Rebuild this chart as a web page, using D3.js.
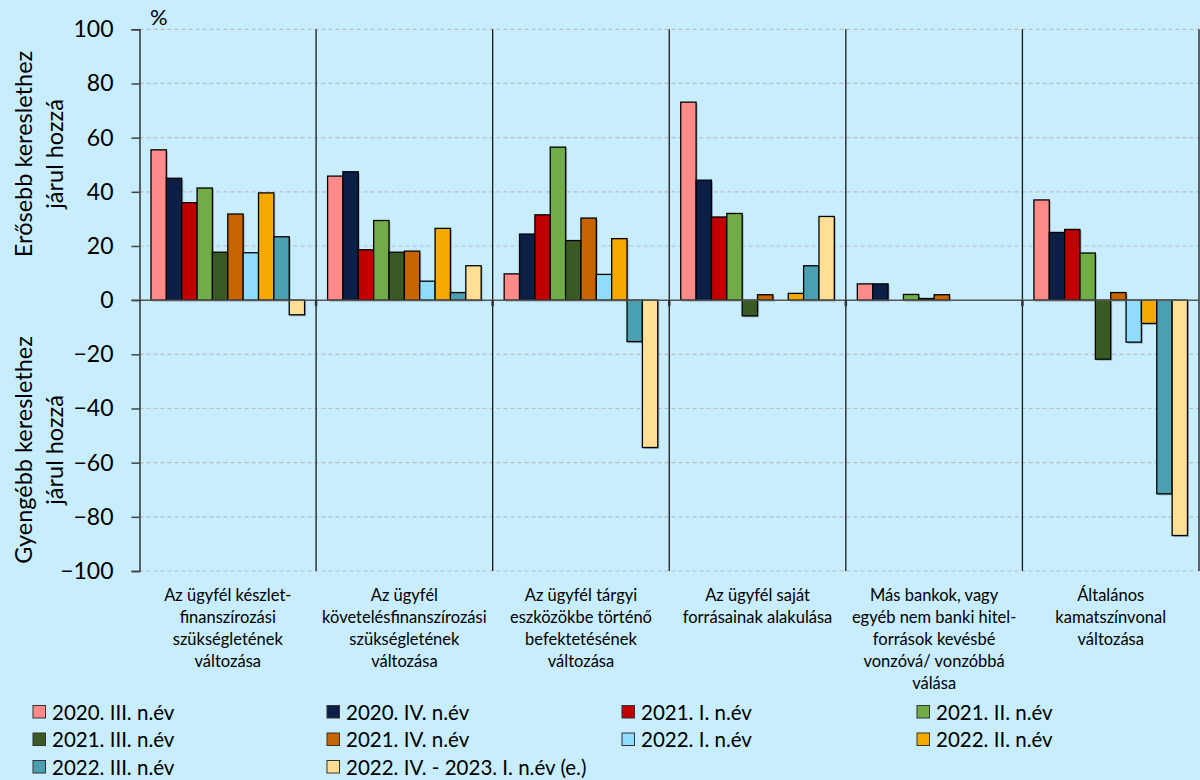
<!doctype html>
<html>
<head>
	<title>Hiteligény tényezők</title>
	<meta charset="UTF-8">
	<script src="https://d3js.org/d3.v7.min.js"></script>
	<style>
		body { margin: 0; background: #C7EDFE; }
		text { font-family: Lato, "Open Sans", sans-serif; fill: #000; }
	</style>
</head>
<body>
	<script>
		// categories (each label split into lines)
		var categories = [
			["Az ügyfél készlet-", "finanszírozási", "szükségletének", "változása"],
			["Az ügyfél", "követelésfinanszírozási", "szükségletének", "változása"],
			["Az ügyfél tárgyi", "eszközökbe történő", "befektetésének", "változása"],
			["Az ügyfél saját", "forrásainak alakulása"],
			["Más bankok, vagy", "egyéb nem banki hitel-", "források kevésbé", "vonzóvá/ vonzóbbá", "válása"],
			["Általános", "kamatszínvonal", "változása"]
		];

		// series names
		var seriesNames = ["2020. III. n.év", "2020. IV. n.év", "2021. I. n.év", "2021. II. n.év",
			"2021. III. n.év", "2021. IV. n.év", "2022. I. n.év", "2022. II. n.év",
			"2022. III. n.év", "2022. IV. - 2023. I. n.év (e.)"];

		// values, one array per series (same order as categories)
		var v2020q3 = [55.5, 45.8, 9.7, 73.1, 6.0, 37.0];
		var v2020q4 = [45.0, 47.4, 24.4, 44.3, 6.0, 25.0];
		var v2021q1 = [36.0, 18.6, 31.5, 30.7, 0, 26.1];
		var v2021q2 = [41.4, 29.4, 56.5, 32.0, 2.1, 17.4];
		var v2021q3 = [17.7, 17.7, 22.0, -5.8, 0.6, -21.8];
		var v2021q4 = [31.8, 18.1, 30.3, 2.0, 2.0, 2.8];
		var v2022q1 = [17.5, 7.0, 9.5, 0, 0, -15.5];
		var v2022q2 = [39.6, 26.5, 22.7, 2.5, 0, -8.6];
		var v2022q3 = [23.4, 2.8, -15.3, 12.7, 0, -71.5];
		var v2022q4 = [-5.4, 12.7, -54.4, 30.9, 0, -86.9];
		var seriesValues = [v2020q3, v2020q4, v2021q1, v2021q2, v2021q3, v2021q4, v2022q1, v2022q2, v2022q3, v2022q4];

		// y tick values
		var yTicks = [-100, -80, -60, -40, -20, 0, 20, 40, 60, 80, 100];

		// colours of the series
		var colours = ["#FF8A8A", "#0C1F47", "#C00000", "#70AD47", "#3A5A24",
			"#C86400", "#8FDCFF", "#F5A800", "#4A9FB0", "#FFDF96"];

		var W = 1200, H = 780;
		var plotLeft = 139.5, plotRight = 1199, plotTop = 29.3, plotBottom = 571;

		var svg = d3.select("body")
			.append("svg")
				.attr("width", W)
				.attr("height", H);

		svg.append("rect")
			.attr("width", W)
			.attr("height", H)
			.attr("fill", "#C7EDFE");

		// scales
		var x0 = d3.scaleBand()
			.domain(d3.range(categories.length))
			.range([plotLeft, plotRight])
			.padding(0);
		var x1 = d3.scaleBand()
			.domain(d3.range(seriesNames.length))
			.range([11.5, x0.bandwidth() - 11.5])
			.padding(0);
		var y = d3.scaleLinear()
			.domain([-100, 100])
			.range([plotBottom, plotTop]);

		// dashed gridlines
		svg.append("g")
			.selectAll("line")
			.data(yTicks.filter(function(d) { return d !== 0; }))
			.enter().append("line")
				.attr("x1", plotLeft)
				.attr("x2", plotRight)
				.attr("y1", function(d) { return y(d); })
				.attr("y2", function(d) { return y(d); })
				.attr("stroke", "#BDBDBD")
				.attr("stroke-width", 1.2)
				.attr("stroke-dasharray", "4,3");

		// vertical separators between categories
		svg.append("g")
			.selectAll("line")
			.data(d3.range(1, categories.length + 1))
			.enter().append("line")
				.attr("x1", function(d) { return plotLeft + d * x0.bandwidth(); })
				.attr("x2", function(d) { return plotLeft + d * x0.bandwidth(); })
				.attr("y1", plotTop)
				.attr("y2", plotBottom)
				.attr("stroke", "#1a1a1a")
				.attr("stroke-width", 1.3);

		// bars
		var flat = [];
		seriesValues.forEach(function(vals, s) {
			vals.forEach(function(v, c) {
				if (v !== 0) flat.push({s: s, c: c, v: v});
			});
		});

		// bar shadows
		svg.append("g")
			.selectAll("rect")
			.data(flat)
			.enter().append("rect")
				.attr("x", function(d) { return x0(d.c) + x1(d.s) + 1.5; })
				.attr("y", function(d) { return Math.min(y(d.v), y(0)) + 1.5; })
				.attr("width", x1.bandwidth())
				.attr("height", function(d) { return Math.abs(y(d.v) - y(0)); })
				.attr("fill", "#333")
				.attr("opacity", 0.3);

		svg.append("g")
			.selectAll("rect")
			.data(flat)
			.enter().append("rect")
				.attr("x", function(d) { return x0(d.c) + x1(d.s); })
				.attr("y", function(d) { return Math.min(y(d.v), y(0)); })
				.attr("width", x1.bandwidth())
				.attr("height", function(d) { return Math.abs(y(d.v) - y(0)); })
				.attr("fill", function(d) { return colours[d.s]; })
				.attr("stroke", "#000")
				.attr("stroke-width", 1.3);

		// zero line
		svg.append("line")
			.attr("x1", plotLeft - 8)
			.attr("x2", plotRight)
			.attr("y1", y(0))
			.attr("y2", y(0))
			.attr("stroke", "#555")
			.attr("stroke-width", 1.5);

		// small ticks below zero line at category boundaries
		svg.append("g")
			.selectAll("line")
			.data(d3.range(1, categories.length))
			.enter().append("line")
				.attr("x1", function(d) { return plotLeft + d * x0.bandwidth(); })
				.attr("x2", function(d) { return plotLeft + d * x0.bandwidth(); })
				.attr("y1", y(0))
				.attr("y2", y(0) + 6)
				.attr("stroke", "#333")
				.attr("stroke-width", 2.5);

		// y axis
		var yAxis = svg.append("g")
			.attr("transform", "translate(" + plotLeft + ",0)")
			.call(d3.axisLeft(y).tickValues(yTicks).tickSize(8).tickPadding(18));
		yAxis.select(".domain").attr("stroke", "#333").attr("stroke-width", 1.5);
		yAxis.selectAll(".tick line").attr("stroke", "#444").attr("stroke-width", 1.5);
		yAxis.selectAll(".tick text")
			.style("font-family", "Lato, 'Open Sans', sans-serif")
			.style("font-size", "23px")
			.attr("fill", "#000");

		// % label
		svg.append("text")
			.attr("x", 150)
			.attr("y", 25)
			.style("font-size", "22px")
			.text("%");

		// y axis titles
		function yTitle(lines, cy) {
			var t = svg.append("text")
				.attr("transform", "translate(0," + cy + ") rotate(-90)")
				.style("text-anchor", "middle")
				.style("font-size", "23.5px");
			t.selectAll("tspan")
				.data(lines)
				.enter().append("tspan")
					.attr("x", 0)
					.attr("y", function(d, i) { return 32 + i * 31; })
					.text(function(d) { return d; });
		}
		yTitle(["Erősebb kereslethez", "járul hozzá"], 154);
		yTitle(["Gyengébb kereslethez", "járul hozzá"], 450);

		// category labels
		categories.forEach(function(lines, c) {
			svg.append("text")
				.style("text-anchor", "middle")
				.style("font-size", "16.5px")
				.selectAll("tspan")
				.data(lines)
				.enter().append("tspan")
					.attr("x", x0(c) + x0.bandwidth() / 2)
					.attr("y", function(d, i) { return 601 + i * 22; })
					.text(function(d) { return d; });
		});

		// legend
		var legendX = [33, 327, 622, 917];
		var legendY = [712, 739.5, 767];
		var legend = svg.append("g");
		seriesNames.forEach(function(name, i) {
			var lx = legendX[i % 4], ly = legendY[Math.floor(i / 4)];
			legend.append("rect")
				.attr("x", lx)
				.attr("y", ly - 6.5)
				.attr("width", 12.5)
				.attr("height", 12.5)
				.attr("fill", colours[i])
				.attr("stroke", "#333")
				.attr("stroke-width", 1);
			legend.append("text")
				.attr("x", lx + 19)
				.attr("y", ly + 7.5)
				.style("font-size", "20.5px")
				.text(name);
		});
	</script>
</body>
</html>
